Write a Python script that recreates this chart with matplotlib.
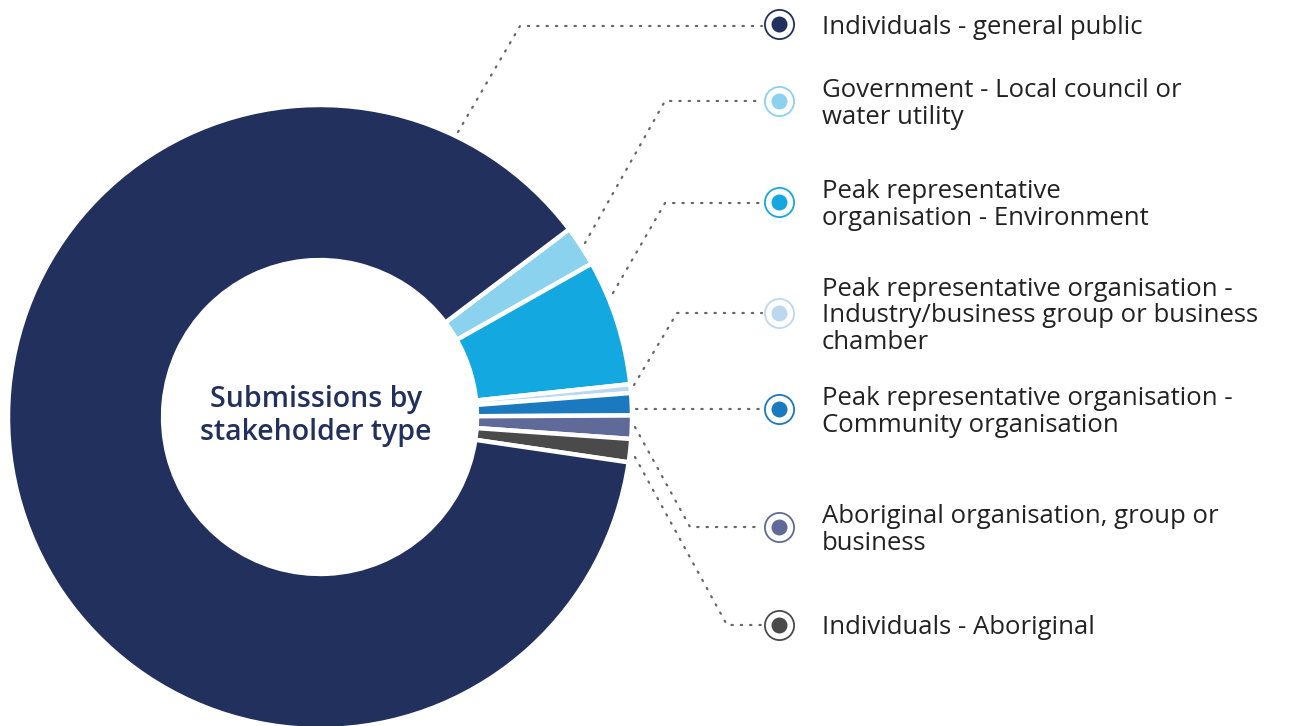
import numpy as np
import matplotlib.pyplot as plt

# stakeholder categories, in legend order (top to bottom)
categories = [
    "Individuals - general public",
    "Government - Local council or\nwater utility",
    "Peak representative\norganisation - Environment",
    "Peak representative organisation -\nIndustry/business group or business\nchamber",
    "Peak representative organisation -\nCommunity organisation",
    "Aboriginal organisation, group or\nbusiness",
    "Individuals - Aboriginal",
]
# share of submissions (%)
shares = [87.4, 2.1, 6.5, 0.45, 1.15, 1.2, 1.2]
colors = ["#22305e", "#8ad2ee", "#13a8e0", "#bdd8ee", "#1b79bf", "#5f6a98", "#4a4a4a"]

W, H = 1303, 726
fig = plt.figure(figsize=(W / 100, H / 100), dpi=100)
ax = fig.add_axes([0, 0, 1, 1])

cx, cy, R = 320, H - 417, 312

# pie runs clockwise from the navy/government boundary, so general public goes last
order = list(range(1, len(shares))) + [0]
wedges, _ = ax.pie([shares[i] for i in order], colors=[colors[i] for i in order],
                   startangle=37, counterclock=False, center=(cx, cy), radius=R,
                   wedgeprops=dict(width=R * 0.497, edgecolor="white", linewidth=3.2))

ax.text(cx - 4, cy + 1, "Submissions by\nstakeholder type", ha="center", va="center",
        fontsize=20.5, color="#22305e", family="Open Sans", weight="semibold",
        linespacing=1.17)

# legend markers / labels / dotted leaders (pixel layout, y measured from top)
marker_y = [24, 101, 202, 313, 409, 527, 625]
leaders = [
    [(458, 132), (520, 26), (762, 26)],
    [(585, 243), (665, 101), (762, 101)],
    [(613, 293), (665, 203), (762, 203)],
    [(634, 385), (677, 313), (762, 313)],
    [(636, 409), (762, 409)],
    [(635, 427), (690, 527), (762, 527)],
    [(635, 457), (727, 625), (762, 625)],
]
mx, tx = 779, 822
for i, lab in enumerate(categories):
    y = H - marker_y[i]
    pts = np.array(leaders[i], dtype=float)
    ax.plot(pts[:, 0], H - pts[:, 1], color="#666666", lw=1.6,
            linestyle=(0, (0.6, 3.6)), dash_capstyle="round", zorder=1)
    ax.plot(mx, y, "o", ms=21, mfc="white", mec=colors[i], mew=1.3, zorder=3)
    ax.plot(mx, y, "o", ms=11.5, mfc=colors[i], mec=colors[i], mew=0, zorder=4)
    ax.text(tx, y - 3, lab, ha="left", va="center", fontsize=18.5, color="#222222",
            family="Open Sans", linespacing=1.1)

ax.set_xlim(0, W)
ax.set_ylim(0, H)
ax.set_aspect("equal")
ax.axis("off")

fig.savefig("out.png", dpi=100, facecolor="white")
